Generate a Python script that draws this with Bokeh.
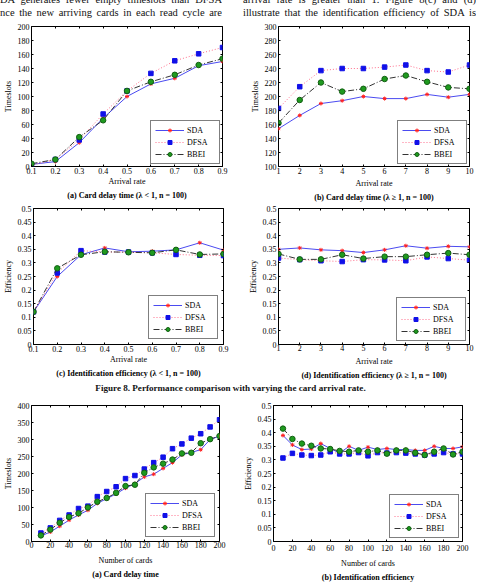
from bokeh.plotting import figure
from bokeh.layouts import column, row
from bokeh.models import (Div, LinearAxis, FixedTicker, CustomJSTickFormatter,
                          Range1d, Title)
from bokeh.embed import file_html
from bokeh.resources import INLINE

# ---- data -------------------------------------------------------------
rates_lo = [0.1, 0.2, 0.3, 0.4, 0.5, 0.6, 0.7, 0.8, 0.9]
rates_hi = [1, 2, 3, 4, 5, 6, 7, 8, 9, 10]
cards = [10, 20, 30, 40, 50, 60, 70, 80, 90, 100,
         110, 120, 130, 140, 150, 160, 170, 180, 190, 200]

# (a) card delay time, lambda < 1
delay_lo_sda = [3, 7, 34, 69, 100, 118, 126, 144, 150]
delay_lo_dfsa = [2, 10, 38, 75, 108, 133, 151, 161, 170]
delay_lo_bbei = [4, 10, 42, 66, 108, 121, 131, 145, 154]

# (b) card delay time, lambda >= 1
delay_hi_sda = [154, 173, 190, 194, 200, 197, 197, 203, 199, 203]
delay_hi_dfsa = [183, 214, 237, 240, 240, 242, 245, 237, 235, 245]
delay_hi_bbei = [162, 195, 220, 207, 211, 225, 230, 221, 213, 211]

# (c) identification efficiency, lambda < 1
eff_lo_sda = [0.12, 0.25, 0.33, 0.355, 0.341, 0.343, 0.348, 0.374, 0.347]
eff_lo_dfsa = [0.12, 0.263, 0.345, 0.34, 0.34, 0.337, 0.331, 0.328, 0.327]
eff_lo_bbei = [0.12, 0.28, 0.33, 0.341, 0.339, 0.337, 0.348, 0.331, 0.333]

# (d) identification efficiency, lambda >= 1
eff_hi_sda = [0.35, 0.355, 0.348, 0.345, 0.338, 0.348, 0.363, 0.354, 0.361, 0.359]
eff_hi_dfsa = [0.318, 0.312, 0.308, 0.305, 0.312, 0.311, 0.308, 0.322, 0.316, 0.31]
eff_hi_bbei = [0.333, 0.313, 0.313, 0.33, 0.316, 0.323, 0.323, 0.33, 0.336, 0.33]

# card delay time vs number of cards
delay_n_sda = [16, 28, 45, 63, 78, 92, 112, 126, 140, 157,
               170, 190, 198, 215, 232, 255, 262, 270, 300, 310]
delay_n_dfsa = [25, 40, 62, 78, 97, 104, 132, 147, 161, 185,
                194, 213, 232, 248, 273, 287, 304, 317, 337, 358]
delay_n_bbei = [18, 35, 55, 72, 83, 100, 117, 128, 143, 163,
                167, 202, 218, 229, 241, 259, 261, 289, 301, 310]

# identification efficiency vs number of cards
eff_n_sda = [0.39, 0.355, 0.338, 0.34, 0.36, 0.342, 0.325, 0.35, 0.335, 0.347,
             0.338, 0.342, 0.338, 0.338, 0.335, 0.335, 0.35, 0.342, 0.342, 0.348]
eff_n_dfsa = [0.307, 0.324, 0.318, 0.316, 0.318, 0.33, 0.322, 0.322, 0.327, 0.315,
              0.327, 0.325, 0.327, 0.325, 0.322, 0.318, 0.322, 0.327, 0.322, 0.322]
eff_n_bbei = [0.415, 0.377, 0.36, 0.352, 0.342, 0.34, 0.333, 0.33, 0.335, 0.33,
              0.335, 0.323, 0.335, 0.335, 0.326, 0.318, 0.33, 0.342, 0.32, 0.33]

ticks_lo = [0.1, 0.2, 0.3, 0.4, 0.5, 0.6, 0.7, 0.8, 0.9]
ticks_hi = [1, 2, 3, 4, 5, 6, 7, 8, 9, 10]
ticks_cards = [0, 20, 40, 60, 80, 100, 120, 140, 160, 180, 200]
ticks_delay_a = [0, 20, 40, 60, 80, 100, 120, 140, 160, 180, 200]
ticks_delay_b = [100, 120, 140, 160, 180, 200, 220, 240, 260, 280, 300]
ticks_delay_n = [0, 50, 100, 150, 200, 250, 300, 350, 400]
ticks_eff = [0, 0.05, 0.1, 0.15, 0.2, 0.25, 0.3, 0.35, 0.4, 0.45, 0.5]

SERIF = "Liberation Serif"
num_fmt = CustomJSTickFormatter(code="return Number(tick.toFixed(3)).toString();")
blank_fmt = CustomJSTickFormatter(code="return '';")


def style_axis(ax, ticks, lab_standoff=2, axis_standoff=2):
    ax.ticker = FixedTicker(ticks=ticks)
    ax.formatter = num_fmt
    ax.major_tick_in = 2
    ax.major_tick_out = 0
    ax.minor_tick_line_color = None
    ax.axis_line_color = None
    ax.major_tick_line_color = "black"
    ax.major_label_text_font = SERIF
    ax.major_label_text_font_size = "8px"
    ax.major_label_text_color = "black"
    ax.major_label_standoff = lab_standoff
    ax.axis_label_text_font = SERIF
    ax.axis_label_text_font_size = "8px"
    ax.axis_label_text_font_style = "normal"
    ax.axis_label_text_color = "black"
    ax.axis_label_standoff = axis_standoff


def mirror_axis(p, ticks, side):
    ax = LinearAxis(ticker=FixedTicker(ticks=ticks), formatter=blank_fmt,
                    major_tick_in=2, major_tick_out=0, minor_tick_line_color=None,
                    axis_line_color=None, major_label_text_font_size="0px",
                    major_label_standoff=0)
    p.add_layout(ax, side)


def panel(x, sda, dfsa, bbei, xr, yr, xticks, yticks, xlabel, ylabel, caption,
          width, height, borders, cap_offset, leg_margin,
          x_lab_standoff, x_axis_standoff, cap_standoff):
    p = figure(width=width, height=height,
               x_range=Range1d(*xr), y_range=Range1d(*yr),
               output_backend="svg", toolbar_location=None,
               min_border_left=borders[0], min_border_right=borders[1],
               min_border_top=borders[2], min_border_bottom=borders[3],
               background_fill_color="white", border_fill_color="white",
               outline_line_color="black", outline_line_width=1)
    p.title.visible = False
    p.xgrid.visible = False
    p.ygrid.visible = False

    style_axis(p.xaxis[0], xticks, x_lab_standoff, x_axis_standoff)
    style_axis(p.yaxis[0], yticks, 2, 2)
    p.xaxis[0].axis_label = xlabel
    p.yaxis[0].axis_label = ylabel
    mirror_axis(p, xticks, "above")
    mirror_axis(p, yticks, "right")

    # SDA: solid blue line, small red markers
    p.line(x, sda, color="#4b4bf0", line_width=1, legend_label="SDA")
    p.scatter(x, sda, marker="asterisk", size=4, line_color="#ff2020",
              line_width=1, legend_label="SDA")
    # DFSA: dotted pink line, blue squares
    p.line(x, dfsa, color="#ff6f8c", line_width=1, line_dash="1 2",
           legend_label="DFSA")
    p.scatter(x, dfsa, marker="square", size=4.5, fill_color="#1010e8",
              line_color="#1010e8", legend_label="DFSA")
    # BBEI: dash-dot dark line, green markers
    p.line(x, bbei, color="#333333", line_width=1, line_dash="6 2 1 2",
           legend_label="BBEI")
    p.scatter(x, bbei, marker="circle", size=5.5, fill_color="#1f9a1f",
              line_color="#126012", legend_label="BBEI")

    lg = p.legend[0]
    lg.location = "bottom_right"
    lg.margin = leg_margin
    lg.padding = 4
    lg.spacing = 2
    lg.glyph_width = 29
    lg.glyph_height = 10
    lg.label_height = 10
    lg.label_width = 28
    lg.label_standoff = 3
    lg.label_text_font = SERIF
    lg.label_text_font_size = "8px"
    lg.label_text_color = "black"
    lg.border_line_color = "black"
    lg.border_line_width = 1
    lg.background_fill_alpha = 1

    p.add_layout(Title(text=caption, align="center", text_font=SERIF,
                       text_font_size="8px", text_font_style="bold",
                       text_color="black", offset=cap_offset,
                       standoff=cap_standoff), "below")
    return p


# borders are (left, right, top, bottom)
fa = panel(rates_lo, delay_lo_sda, delay_lo_dfsa, delay_lo_bbei, (0.1, 0.9), (0, 200),
           ticks_lo, ticks_delay_a, "Arrival rate", "Timeslots",
           "(a) Card delay time (λ < 1, n = 100)", 240, 183, (27, 18, 6, 35), -1.5, 2,
           1, 0, 0)
fb = panel(rates_hi, delay_hi_sda, delay_hi_dfsa, delay_hi_bbei, (1, 10), (100, 300),
           ticks_hi, ticks_delay_b, "Arrival rate", "Timeslots",
           "(b) Card delay time (λ ≥ 1, n = 100)", 239, 183, (38, 10, 6, 37), -10, 2,
           1, 2, 0)
fc = panel(rates_lo, eff_lo_sda, eff_lo_dfsa, eff_lo_bbei, (0.1, 0.9), (0, 0.5),
           ticks_lo, ticks_eff, "Arrival rate", "Efficiency",
           "(c) Identification efficiency (λ < 1, n = 100)", 240, 180, (28, 17, 5, 36),
           -9.5, 5, 1, 0, 0)
fd = panel(rates_hi, eff_hi_sda, eff_hi_dfsa, eff_hi_bbei, (1, 10), (0, 0.5),
           ticks_hi, ticks_eff, "Arrival rate", "Efficiency",
           "(d) Identification efficiency (λ ≥ 1, n = 100)", 239, 180, (38, 10, 5, 39),
           -3.5, 3, 0, 3, 0)
fe = panel(cards, delay_n_sda, delay_n_dfsa, delay_n_bbei, (0, 200), (0, 400),
           ticks_cards, ticks_delay_n, "Number of cards", "Timeslots",
           "(a) Card delay time", 240, 191, (26, 21, 11, 41), -3.5, 4,
           0, 5, 0)
ff = panel(cards, eff_n_sda, eff_n_dfsa, eff_n_bbei, (0, 200), (0, 0.5),
           ticks_cards, ticks_eff, "Number of cards", "Efficiency",
           "(b) Identification efficiency", 239, 191, (32, 17, 10, 44), -2, 3,
           3, 5, 0)

# ---- running text above the panels ------------------------------------
def text_block(lines, left, text_width):
    body = "".join(
        '<div style="text-align:justify;text-align-last:justify;">%s</div>' % ln
        for ln in lines)
    return ('<div style="height:20px;overflow:hidden;">'
            '<div style="position:relative;top:-6px;margin-left:%dpx;width:%dpx;'
            'font-family:\'Liberation Serif\';font-size:10.5px;line-height:12.5px;'
            'color:#111;">%s</div></div>' % (left, text_width, body))


top_left = Div(text=text_block(["DA generates fewer empty timeslots than DFSA",
                                 "nce the new arriving cards in each read cycle are"],
                                0, 222),
               width=240, height=20, margin=(0, 0, 0, 0))
top_right = Div(text=text_block(["arrival rate is greater than 1. Figure 8(c) and (d)",
                                  "illustrate that the identification efficiency of SDA is"],
                                 3, 233),
                width=239, height=20, margin=(0, 0, 0, 0))

fig8_caption = Div(
    text=('<div style="position:relative;top:-4px;width:461px;height:11px;'
          'text-align:center;font-family:\'Liberation Serif\';font-weight:bold;'
          'font-size:9.1px;line-height:11px;color:#111;white-space:nowrap;">'
          'Figure 8. Performance comparison with varying the card arrival rate.</div>'),
    width=479, height=11, margin=(0, 0, 0, 0))

layout = column(
    row(top_left, top_right, spacing=0),
    row(fa, fb, spacing=0),
    row(fc, fd, spacing=0),
    fig8_caption,
    row(fe, ff, spacing=0),
    spacing=0,
)

open("out.html", "w").write(file_html(layout, INLINE))
